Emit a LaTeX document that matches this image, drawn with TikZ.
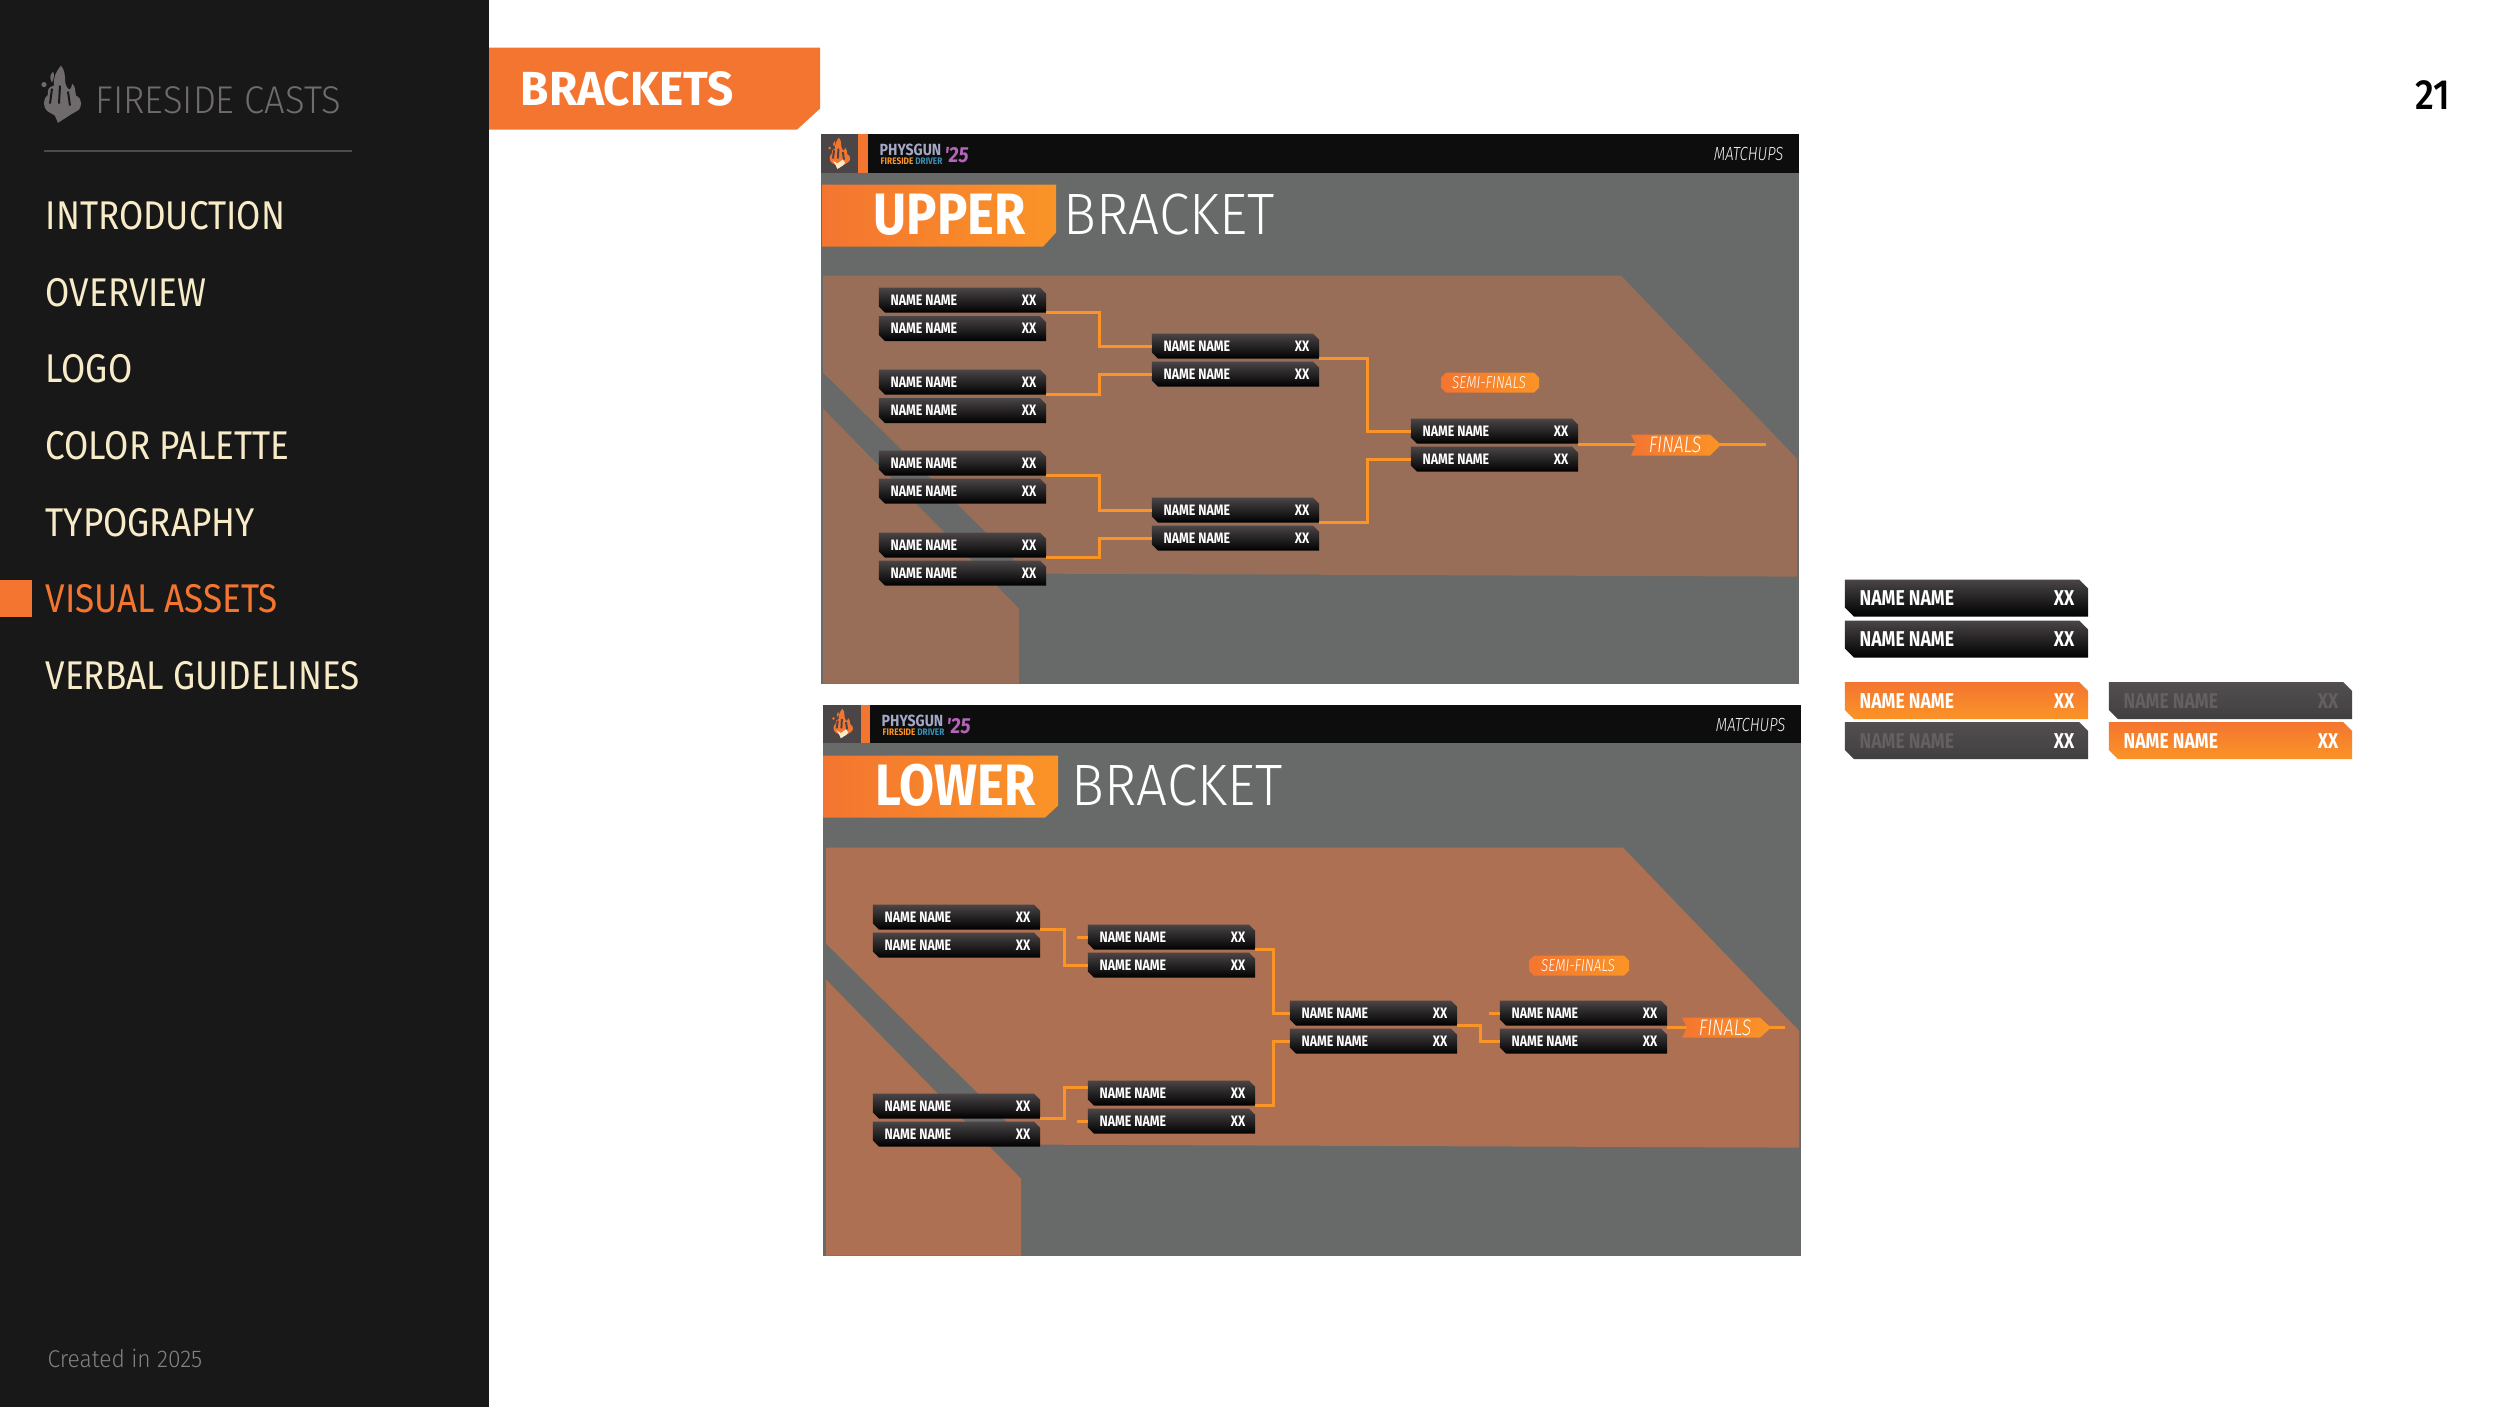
\documentclass[tikz,border=0pt]{standalone}
\usepackage{fontspec}
\setmainfont[FakeStretch=0.82]{Fira Sans}
\newfontfamily\menufont[FakeStretch=0.875]{Fira Sans}
\newfontfamily\lightfont[FakeStretch=0.94,UprightFont={Fira Sans Light},ItalicFont={Fira Sans Light Italic}]{Fira Sans Light}
\newfontfamily\narrowfont[FakeStretch=0.78,UprightFont={Fira Sans Light},ItalicFont={Fira Sans Light Italic}]{Fira Sans Light}
\newfontfamily\boldfont[FakeStretch=0.87,UprightFont={Fira Sans Bold}]{Fira Sans Bold}
\newfontfamily\widefont[FakeStretch=0.96,UprightFont={Fira Sans Bold}]{Fira Sans Bold}
\newfontfamily\numfont[FakeStretch=0.88,UprightFont={Fira Sans Medium}]{Fira Sans Medium}
\usetikzlibrary{calc, positioning}

\definecolor{sidebar}{HTML}{181818}
\definecolor{cream}{HTML}{F7EBC8}
\definecolor{orangeA}{HTML}{F47530}
\definecolor{orangeB}{HTML}{FA9427}
\definecolor{panelgrey}{HTML}{676A68}
\definecolor{brownA}{HTML}{986E58}
\definecolor{brownB}{HTML}{AE7052}
\definecolor{headbar}{HTML}{0D0D0D}
\definecolor{ashgrey}{HTML}{6F6A6B}
\definecolor{logobox}{HTML}{4A4546}
\definecolor{dimname}{HTML}{655F62}
\definecolor{badgeblue}{HTML}{A4A8C6}

\tikzset{
  slotbase/.style={rectangle, inner sep=0pt, outer sep=0pt},
  smallslot/.style={slotbase, minimum width=1.67cm, minimum height=.25cm},
  bigslot/.style={slotbase, minimum width=2.43cm, minimum height=.37cm},
  darkslot/.style={top color=logobox, middle color=black!82, bottom color=black},
  orangeslot/.style={top color=orangeA, bottom color=orangeB},
  greyslot/.style={top color=logobox!95!white, middle color=logobox, bottom color=black!75},
  smalltext/.style={inner sep=0pt, text=white, font=\fontsize{4.3}{5}\selectfont\bfseries},
  bigtext/.style={inner sep=0pt, text=white, font=\fontsize{6.1}{7}\selectfont\bfseries},
  bracketline/.style={draw=orangeB, line width=.03cm},
  menuitem/.style={anchor=west, inner sep=0pt, text=cream, font=\fontsize{11.4}{13}\menufont},
  headtitle/.style={anchor=west, inner sep=0pt, text=white, font=\fontsize{16.6}{19}\boldfont},
  headrest/.style={anchor=west, inner sep=0pt, text=white, font=\fontsize{16.6}{19}\lightfont},
  tagtext/.style={inner sep=0pt, text=white, font=\fontsize{6.4}{7}\narrowfont\itshape},
  semitext/.style={inner sep=0pt, text=white, font=\fontsize{4.9}{6}\narrowfont\itshape},
  matchtext/.style={anchor=east, inner sep=0pt, text=white!95!black, font=\fontsize{5.4}{6}\narrowfont\itshape},
}

% slot body with two cut corners
\newcommand{\slotbody}[3]{%
  \shade[#3] (#1.north west) -- ($(#1.north east)+(-#2,0)$) -- ($(#1.north east)+(0,#2)$)
    -- (#1.south east) -- ($(#1.south west)+(#2,0)$) -- ($(#1.south west)+(0,-#2)$) -- cycle;
}
% one small bracket slot, by its centre
\newcommand{\smallbox}[3]{%
  \node[smallslot] (#1) at (#2,#3) {};
  \slotbody{#1}{6}{darkslot}
  \node[smalltext, anchor=west] (#1n) at ($(#1.west)+(11,0)$) {NAME NAME};
  \node[smalltext, anchor=east] (#1s) at ($(#1.east)+(-9,0)$) {XX};
}
% one big sample slot: name, centre, fill style, name colour
\newcommand{\bigbox}[5]{%
  \node[bigslot] (#1) at (#2,#3) {};
  \slotbody{#1}{9}{#4}
  \node[bigtext, anchor=west, text=#5] (#1n) at ($(#1.west)+(14,0)$) {NAME NAME};
}
\newcommand{\bigscore}[2]{%
  \node[bigtext, anchor=east, text=#2] (#1s) at ($(#1.east)+(-13,0)$) {XX};
}
% flame mark, 42 by 57 at scale 1
\newcommand{\flame}[6]{%
  \begin{scope}[shift={(#1,#2)}, scale=#3]
    \fill[#4] (20,0) .. controls (27,9) and (21,15) .. (27,23)
      .. controls (29,25) and (31,22) .. (31,18) .. controls (35,21) and (34,26) .. (35,30)
      .. controls (42,33) and (42,43) .. (35,46) -- (28,50) -- (17,57) -- (14,50) -- (7,46)
      .. controls (1,41) and (2,33) .. (7,29) .. controls (6,24) and (8,21) .. (13,20)
      .. controls (12,12) and (15,6) .. (20,0) -- cycle;
    \fill[#4] (3,19) circle (2.6);
    \fill[#4] (12,6) .. controls (8,10) and (9,13) .. (11,17) .. controls (13,12) and (14,10) .. (12,6) -- cycle;
    \draw[#5, line width=.02cm] (11,23) -- (9,38);
    \draw[#5, line width=.02cm] (19,20) -- (18,38);
    \draw[#5, line width=.02cm] (27,26) -- (29,40);
    \fill[#6] (9,42) -- (17,47) -- (27,40) -- (31,46) -- (28,50) -- (17,57) -- (14,50) -- cycle;
  \end{scope}
}
% show badge in the top bar
\newcommand{\showmark}[3]{%
  \node[anchor=west, inner sep=0pt, text=badgeblue, font=\fontsize{4.6}{6}\boldfont] (#1a) at (#2,#3) {PHYSGUN};
  \node[anchor=west, inner sep=0pt, text=orangeB, font=\fontsize{2.7}{3}\boldfont] (#1b) at ($(#1a.south west)+(1,5)$) {FIRESIDE \textcolor{cyan!70!black}{DRIVER}};
  \node[anchor=west, inner sep=0pt, text=magenta!50!blue!60!white, font=\fontsize{6.2}{8}\boldfont\itshape] (#1c) at ($(#1a.east)+(2,6)$) {'25};
}

\begin{document}
\begin{tikzpicture}[x=0.01cm, y=-0.01cm]
\useasboundingbox (0,0) rectangle (2500,1406);
\fill[white] (0,0) rectangle (2500,1406);
\begin{scope}[yshift=-.006cm]

% sidebar
\fill[sidebar] (0,-5) rectangle (489,1412);
\flame{41}{65}{1}{ashgrey}{sidebar}{ashgrey}
\node[anchor=west, inner sep=0pt, text=ashgrey, font=\fontsize{11}{13}\lightfont] (brand) at (95,100) {FIRESIDE CASTS};
\coordinate (ruleL) at (44,150);
\coordinate (ruleR) at (352,150);
\draw[draw=white!22!sidebar, line width=.02cm] (ruleL) -- (ruleR);
\node[menuitem] (intro) at (45,215) {INTRODUCTION};
\node[menuitem] (over) at (45,292) {OVERVIEW};
\node[menuitem] (logo) at (45,368) {LOGO};
\node[menuitem] (palette) at (45,445) {COLOR PALETTE};
\node[menuitem] (typo) at (45,522) {TYPOGRAPHY};
\fill[orangeA] (0,579) rectangle (32,616);
\node[menuitem, text=orangeA] (visual) at (45,598) {VISUAL ASSETS};
\node[menuitem] (verbal) at (45,675) {VERBAL GUIDELINES};
\node[anchor=west, inner sep=0pt, text=ashgrey!85!white, font=\fontsize{6.9}{9}\lightfont] (created) at (47,1358) {Created in 2025};

% page head
\fill[orangeA] (489,47) -- (820,47) -- (820,108) -- (797,129) -- (489,129) -- cycle;
\node[anchor=west, inner sep=0pt, text=white, font=\fontsize{13.6}{16}\widefont] (pagehead) at (520,88) {BRACKETS};
\node[anchor=east, inner sep=0pt, text=black, font=\fontsize{12}{14}\numfont] (pagenum) at (2451,94) {21};

% upper panel
\fill[panelgrey] (821,133) rectangle (1799,683);
\fill[headbar] (821,133) rectangle (1799,172);
\fill[logobox] (821,133) rectangle (858,172);
\fill[orangeA] (858,133) rectangle (868,172);
\flame{828}{137}{.55}{orangeA}{logobox}{cream}
\showmark{ubadge}{879}{149}
\node[matchtext] (umatch) at (1784,153) {MATCHUPS};
\shade[left color=orangeA, right color=orangeB] (822,184) -- (1056,184) -- (1056,232) -- (1043,246) -- (822,246) -- cycle;
\node[headtitle] (utitle) at (873,214) {UPPER};
\node[headrest] (urest) at (1063,214) {BRACKET};
\fill[brownA] (823,275) -- (1621,275) -- (1797,458) -- (1797,576) -- (1028,573) -- (823,372) -- cycle;
\fill[brownA] (823,408) -- (1019,608) -- (1019,683) -- (823,683) -- cycle;

\smallbox{ua}{962.5}{299.5}
\smallbox{ub}{962.5}{328}
\smallbox{uc}{962.5}{381.5}
\smallbox{ud}{962.5}{410}
\smallbox{ue}{962.5}{462.5}
\smallbox{uf}{962.5}{490.5}
\smallbox{ug}{962.5}{544.5}
\smallbox{uh}{962.5}{572.5}
\smallbox{ui}{1235.5}{345.5}
\smallbox{uj}{1235.5}{373.5}
\smallbox{uk}{1235.5}{509.5}
\smallbox{ul}{1235.5}{537.5}
\smallbox{um}{1494.5}{430.5}
\smallbox{un}{1494.5}{458.5}

\draw[bracketline] (ua.south east) -- ++(53,0) |- (ui.west);
\draw[bracketline] (uc.south east) -- ++(53,0) |- (uj.west);
\draw[bracketline] (ue.south east) -- ++(53,0) |- (uk.west);
\draw[bracketline] (ug.south east) -- ++(53,0) |- (ul.west);
\draw[bracketline] (ui.south east) -- ++(48,0) |- (um.west);
\draw[bracketline] (uk.south east) -- ++(48,0) |- (un.west);
\coordinate (uend) at (1766,444);
\draw[bracketline] (um.south east |- uend) -- (uend);

\shade[left color=orangeA, right color=orangeB] (1446,372) -- (1534,372) -- (1539,377) -- (1539,387) -- (1534,392) -- (1446,392) -- (1441,387) -- (1441,377) -- cycle;
\node[semitext] (usemi) at (1489,382) {SEMI-FINALS};
\shade[left color=orangeA, right color=orangeB] (1631,434) -- (1710,434) -- (1721,444) -- (1710,455) -- (1631,455) -- (1636,444) -- cycle;
\node[tagtext] (ufinal) at (1675,444) {FINALS};

% lower panel
\fill[panelgrey] (823,704) rectangle (1801,1255);
\fill[headbar] (823,704) rectangle (1801,742);
\fill[logobox] (823,704) rectangle (861,742);
\fill[orangeA] (861,704) rectangle (870,742);
\flame{832}{708}{.52}{orangeA}{logobox}{cream}
\showmark{lbadge}{881}{720}
\node[matchtext] (lmatch) at (1786,724) {MATCHUPS};
\shade[left color=orangeA, right color=orangeB] (823,755) -- (1058,755) -- (1058,805) -- (1045,817) -- (823,817) -- cycle;
\node[headtitle] (ltitle) at (875,785) {LOWER};
\node[headrest] (lrest) at (1071,785) {BRACKET};
\fill[brownB] (826,847) -- (1623,847) -- (1799,1030) -- (1799,1147) -- (1030,1144) -- (826,943) -- cycle;
\fill[brownB] (826,979) -- (1021,1178) -- (1021,1255) -- (826,1255) -- cycle;

\smallbox{la}{956.5}{916.5}
\smallbox{lb}{956.5}{944.5}
\smallbox{lc}{956.5}{1105.5}
\smallbox{ld}{956.5}{1133.5}
\smallbox{le}{1171.5}{936.5}
\smallbox{lf}{1171.5}{964.5}
\smallbox{lg}{1171.5}{1092.5}
\smallbox{lh}{1171.5}{1120.5}
\smallbox{li}{1373.5}{1012.5}
\smallbox{lj}{1373.5}{1040.5}
\smallbox{lk}{1583.5}{1012.5}
\smallbox{ln}{1583.5}{1040.5}

\draw[bracketline] (la.south east) -- ++(24,0) |- (lf.west);
\draw[bracketline] (lc.south east) -- ++(24,0) |- ($(lg.west)+(0,-6)$);
\draw[bracketline] (le.west) -- ++(-11,0);
\draw[bracketline] (lh.west) -- ++(-11,0);
\draw[bracketline] (le.south east) -- ++(18,0) |- (li.west);
\draw[bracketline] (lg.south east) -- ++(18,0) |- (lj.west);
\draw[bracketline] (li.south east) -- ++(23,0) |- (ln.west);
\draw[bracketline] (lk.west) -- ++(-11,0);
\coordinate (lend) at (1785,1027);
\draw[bracketline] (lk.south east |- lend) -- (lend);

\shade[left color=orangeA, right color=orangeB] (1534,955) -- (1624,955) -- (1629,960) -- (1629,970) -- (1624,975) -- (1534,975) -- (1529,970) -- (1529,960) -- cycle;
\node[semitext] (lsemi) at (1578,965) {SEMI-FINALS};
\shade[left color=orangeA, right color=orangeB] (1682,1017) -- (1760,1017) -- (1771,1027) -- (1760,1037) -- (1682,1037) -- (1687,1027) -- cycle;
\node[tagtext] (lfinal) at (1725,1027) {FINALS};

% sample slots
\bigbox{sa}{1966.5}{597.5}{darkslot}{white}
\bigscore{sa}{white}
\bigbox{sb}{1966.5}{638.5}{darkslot}{white}
\bigscore{sb}{white}
\bigbox{sc}{1966.5}{700}{orangeslot}{white}
\bigscore{sc}{white}
\bigbox{sd}{1966.5}{740}{greyslot}{dimname}
\bigscore{sd}{white}
\bigbox{se}{2230.5}{700}{greyslot}{dimname}
\bigscore{se}{dimname}
\bigbox{sf}{2230.5}{740}{orangeslot}{white}
\bigscore{sf}{white}
\end{scope}
\end{tikzpicture}
\end{document}
